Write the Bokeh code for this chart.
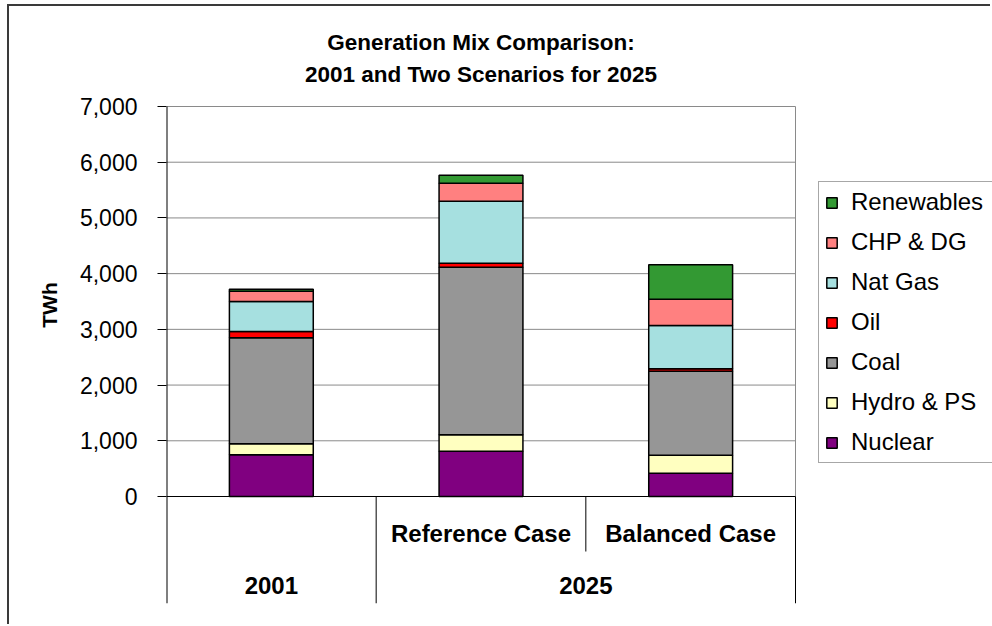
from bokeh.plotting import figure
from bokeh.models import (ColumnDataSource, Range1d, FixedTicker, NumeralTickFormatter,
                          Legend, LegendItem, Label)
from bokeh.core.properties import value
from bokeh.embed import file_html
from bokeh.resources import INLINE

# ---- data (TWh) ----
cases = ["2001", "Reference Case", "Balanced Case"]
case_labels = ["Reference Case", "Balanced Case"]
groups = ["2001", "2025"]
sources = ["Nuclear", "Hydro & PS", "Coal", "Oil", "Nat Gas", "CHP & DG", "Renewables"]
nuclear = [750, 813, 419]
hydro_ps = [196, 294, 323]
coal = [1903, 3009, 1508]
oil = [113, 72, 42]
nat_gas = [538, 1113, 777]
chp_dg = [186, 323, 473]
renewables = [35, 144, 617]
colors = ["#800080", "#FFFFC0", "#969696", "#FF0000", "#A6E0E0", "#FF8080", "#339933"]
y_ticks = [0, 1000, 2000, 3000, 4000, 5000, 6000, 7000]

FONT = "Liberation Sans"

# ---- geometry (page pixels) ----
OX, OY = 9, 6                      # canvas offset inside the page (outer chart border)
W, H = 992 - OX, 626 - OY
PLOT_L, PLOT_R = 166, 795          # plot area, page coords
PLOT_T, ZERO_Y, AXIS_B = 106, 496, 603
FRAME_R, FRAME_T = 992, OY         # drawing frame reaches the right and top edges
Y_MAX = 7000
N = len(cases)
PX_PER_UNIT = (ZERO_Y - PLOT_T) / Y_MAX
PX_PER_CAT = (PLOT_R - PLOT_L) / N
Y_LO = -(AXIS_B - ZERO_Y) / PX_PER_UNIT
Y_HI = (ZERO_Y - FRAME_T) / PX_PER_UNIT
X_HI = (FRAME_R - PLOT_L) / PX_PER_CAT


def dy(py):
    return (ZERO_Y - py) / PX_PER_UNIT


xs = [i + 0.5 for i in range(N)]
source = ColumnDataSource(dict(x=xs, **{s: v for s, v in zip(
    sources, [nuclear, hydro_ps, coal, oil, nat_gas, chp_dg, renewables])}))

p = figure(width=W, height=H, x_range=Range1d(0, X_HI), y_range=Range1d(Y_LO, Y_HI),
           x_axis_type=None, output_backend="svg", toolbar_location=None,
           min_border_left=PLOT_L - OX, min_border_right=0,
           min_border_top=0, min_border_bottom=H - (AXIS_B - OY))
p.styles = {"margin-left": f"{OX - 2}px", "margin-top": f"{OY - 2}px",
            "border-left": "2px solid #3a3a3a", "border-top": "2px solid #3a3a3a"}
p.outline_line_color = None
p.background_fill_color = "white"
p.border_fill_color = "white"
p.xgrid.visible = False
p.ygrid.visible = False

# y axis: ticks and labels only, its line is drawn below as a glyph
ax = p.yaxis[0]
ax.ticker = FixedTicker(ticks=y_ticks)
ax.formatter = NumeralTickFormatter(format="0,0")
ax.major_tick_out = 9
ax.major_tick_in = 0
ax.minor_tick_out = 0
ax.minor_tick_in = 0
ax.axis_line_color = None
ax.major_tick_line_color = "black"
ax.major_label_text_font = FONT
ax.major_label_text_font_size = "23px"
ax.major_label_text_color = "black"
ax.major_label_standoff = 20
ax.axis_label = "TWh"
ax.axis_label_text_font = FONT
ax.axis_label_text_font_style = "bold"
ax.axis_label_text_font_size = "21px"
ax.axis_label_text_color = "black"
ax.axis_label_standoff = 16

# horizontal gridlines across the plot area
grid_ticks = y_ticks[1:]
p.segment(x0=[0] * len(grid_ticks), y0=grid_ticks, x1=[N] * len(grid_ticks), y1=grid_ticks,
          line_color="#8a8a8a", line_width=1)
# plot area right edge
p.segment(x0=[N], y0=[0], x1=[N], y1=[Y_MAX], line_color="#8a8a8a", line_width=1)

# stacked bars
renderers = p.vbar_stack(sources, x="x", width=0.4, source=source, fill_color=colors,
                         line_color="black", line_width=1.5)

# value axis line, category axis line and category separators
p.segment(x0=[0, 0, 1, 2, N], y0=[Y_LO, 0, Y_LO, dy(551), Y_LO],
          x1=[0, N, 1, 2, N], y1=[Y_MAX, 0, 0, 0, 0],
          line_color="black", line_width=[2, 1.2, 1, 1, 1])

# category labels
p.text(x=xs[1:], y=[dy(533)] * 2, text=case_labels, text_align="center",
       text_baseline="middle", text_font=value(FONT), text_font_style="bold",
       text_font_size="24px", text_color="black")
p.text(x=[0.5, 2.0], y=[dy(585)] * 2, text=groups, text_align="center",
       text_baseline="middle", text_font=value(FONT), text_font_style="bold",
       text_font_size="24px", text_color="black")

# two-line title
for txt, py in [("Generation Mix Comparison:", 42), ("2001 and Two Scenarios for 2025", 74)]:
    p.add_layout(Label(x=N / 2, y=dy(py), text=txt, text_align="center",
                       text_baseline="middle", text_font=FONT, text_font_style="bold",
                       text_font_size="22.5px", text_color="black"))

# legend, top entry is the top of the stack
items = [LegendItem(label=s, renderers=[r]) for s, r in zip(sources, renderers)][::-1]
legend = Legend(items=items, location=(818 - PLOT_L, AXIS_B - 463), margin=0,
                padding=6, spacing=12, glyph_width=13, glyph_height=13, label_standoff=13,
                label_width=145,
                label_text_font=FONT, label_text_font_size="24px", label_text_color="black",
                border_line_color="#505050", border_line_width=1,
                background_fill_color="white", background_fill_alpha=1)
p.add_layout(legend)

open("out.html", "w").write(file_html(p, INLINE))
